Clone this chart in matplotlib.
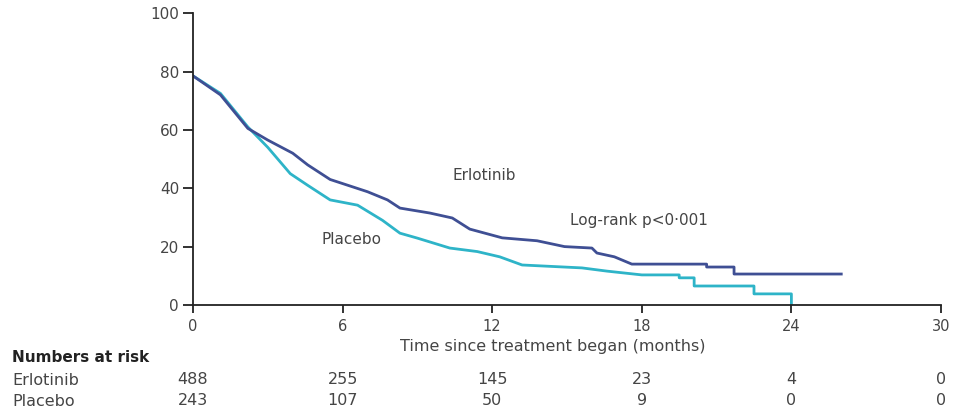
import matplotlib
matplotlib.use("Agg")
import matplotlib.pyplot as plt

# survival curves (months, % progression-free)
erl_t = [0, 1.1, 2.2, 3.0, 4.0, 4.6, 5.5, 7.0, 7.8, 8.3, 9.5, 10.4, 11.1, 12.4, 13.8,
         14.9, 16.0, 16.2, 16.9, 17.6, 20.6, 20.6, 21.7, 21.7, 26.0]
erl_s = [78.5, 72, 60.5, 56.5, 52, 48, 43, 38.8, 36, 33.2, 31.5, 29.8, 26, 23, 22,
         20, 19.5, 17.8, 16.5, 14, 14, 13, 13, 10.6, 10.6]

pla_t = [0, 1.1, 2.2, 3.0, 3.9, 4.6, 5.5, 6.6, 7.6, 8.3, 9.0, 10.3, 11.4, 12.3, 13.2,
         15.6, 16.6, 18.0, 19.5, 19.5, 20.1, 20.1, 22.5, 22.5, 24.0, 24.0]
pla_s = [78.5, 72.5, 61, 54, 45, 41, 36, 34.2, 29, 24.6, 22.9, 19.5, 18.3, 16.5, 13.7,
         12.7, 11.6, 10.3, 10.3, 9.3, 9.3, 6.5, 6.5, 3.8, 3.8, 0]

risk_times = [0, 6, 12, 18, 24, 30]
risk_erl = [488, 255, 145, 23, 4, 0]
risk_pla = [243, 107, 50, 9, 0, 0]

plt.rcParams["font.family"] = ["DejaVu Sans"]
grey = "#454545"

fig = plt.figure(figsize=(9.67, 4.11), dpi=100)
ax = fig.add_axes([0.1996, 0.258, 0.7735, 0.710])

ax.plot(pla_t, pla_s, color="#2eb4c8", lw=2)
ax.plot(erl_t, erl_s, color="#3f4f94", lw=2)

ax.set_xlim(0, 30)
ax.set_ylim(0, 100)
ax.set_xticks(risk_times)
ax.set_yticks([0, 20, 40, 60, 80, 100])
for s in ["top", "right"]:
    ax.spines[s].set_visible(False)
for s in ["left", "bottom"]:
    ax.spines[s].set_color("#222222")
    ax.spines[s].set_linewidth(1.3)
ax.tick_params(axis="y", direction="out", length=7, width=1.3, colors="#222222",
               labelcolor=grey, labelsize=11, pad=3)
ax.tick_params(axis="x", direction="out", length=6, width=1.3, colors="#222222",
               labelcolor=grey, labelsize=10.5, pad=4)

ax.text(11.7, 44.5, "Erlotinib", ha="center", va="center", fontsize=11, color=grey)
ax.text(6.35, 22.3, "Placebo", ha="center", va="center", fontsize=11, color=grey)
ax.text(17.9, 29, "Log-rank p<0·001", ha="center", va="center", fontsize=11,
        color=grey)

ax.set_xlabel("Time since treatment began (months)", fontsize=11.5, color=grey)
ax.xaxis.set_label_coords(0.481, -0.142)
ax.xaxis.label.set_va("center")

# numbers at risk table
tr = ax.get_xaxis_transform()
fig.text(12 / 967, 1 - 357 / 411, "Numbers at risk", fontsize=11, weight="bold",
         color="#222222", va="center")
fig.text(12 / 967, 1 - 380 / 411, "Erlotinib", fontsize=11.5, color=grey,
         va="center")
fig.text(12 / 967, 1 - 401 / 411, "Placebo", fontsize=11.5, color=grey,
         va="center")
y_erl = -(380 - 305) / 292
y_pla = -(401 - 305) / 292
for t, a, b in zip(risk_times, risk_erl, risk_pla):
    ax.text(t, y_erl, str(a), transform=tr, ha="center", va="center",
            fontsize=11.5, color=grey, clip_on=False)
    ax.text(t, y_pla, str(b), transform=tr, ha="center", va="center",
            fontsize=11.5, color=grey, clip_on=False)

fig.savefig("out.png", dpi=100)
